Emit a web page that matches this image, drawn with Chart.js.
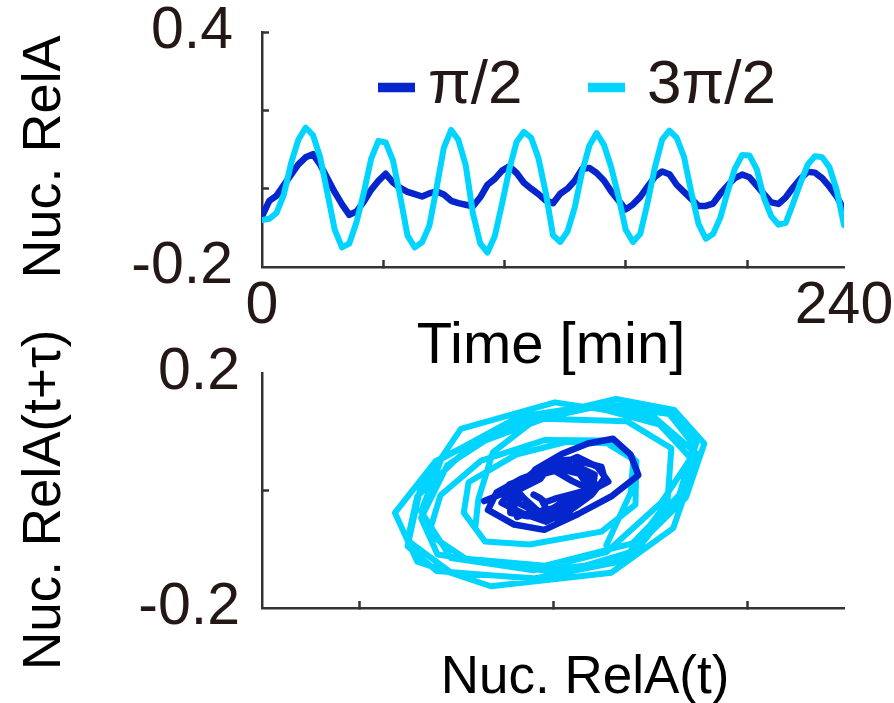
<!DOCTYPE html>
<html>
<head>
<meta charset="utf-8">
<script src="https://cdn.jsdelivr.net/npm/chart.js@4.4.1/dist/chart.umd.min.js"></script>
<style>
html,body{margin:0;padding:0;background:#ffffff;}
#wrap{position:relative;width:894px;height:703px;overflow:hidden;}
#wrap canvas{position:absolute;left:0;top:0;}
</style>
</head>
<body>
<div id="wrap">
<canvas id="top" width="894" height="703"></canvas>
<canvas id="bottom" width="894" height="703"></canvas>
</div>
<script>
// ---------------- data ----------------
const SERIES_LABELS = ['π/2', '3π/2'];

// sampling times [min]
const TIME = [0,3,6,9,12,15,18,21,24,27,30,33,36,39,42,45,48,51,54,57,
  60,63,66,69,72,75,78,81,84,87,90,93,96,99,102,105,108,111,114,117,
  120,123,126,129,132,135,138,141,144,147,150,153,156,159,162,165,168,171,174,177,
  180,183,186,189,192,195,198,201,204,207,210,213,216,219,222,225,228,231,234,237,240];

// nuclear RelA, pi/2 (dark blue)
const RELA_PI2 = [-0.071,-0.031,-0.018,0.009,0.036,0.062,0.080,0.088,0.061,0.026,
  -0.009,-0.040,-0.067,-0.058,-0.033,-0.003,0.020,0.038,0.016,0.002,
  -0.008,-0.014,-0.020,-0.012,-0.007,-0.015,-0.031,-0.037,-0.041,-0.045,
  -0.022,0.010,0.025,0.046,0.057,0.040,0.015,0.000,-0.014,-0.030,
  -0.037,-0.013,0.000,0.020,0.050,0.053,0.040,0.021,-0.007,-0.030,
  -0.053,-0.040,-0.021,0.005,0.030,0.044,0.037,0.010,-0.008,-0.026,
  -0.044,-0.044,-0.038,-0.013,0.008,0.027,0.036,0.029,0.008,-0.014,
  -0.035,-0.039,-0.022,0.003,0.025,0.043,0.041,0.027,0.005,-0.020,
  -0.054];

// nuclear RelA, 3pi/2 (cyan)
const RELA_3PI2 = [-0.080,-0.077,-0.062,-0.015,0.065,0.125,0.156,0.137,0.080,-0.012,
  -0.105,-0.150,-0.140,-0.085,-0.010,0.076,0.122,0.118,0.072,-0.020,
  -0.120,-0.150,-0.137,-0.095,0.002,0.105,0.150,0.124,0.060,-0.064,
  -0.140,-0.163,-0.121,-0.038,0.050,0.120,0.145,0.130,0.078,-0.010,
  -0.119,-0.136,-0.109,-0.047,0.043,0.110,0.142,0.112,0.055,-0.020,
  -0.105,-0.136,-0.115,-0.036,0.054,0.125,0.148,0.130,0.082,-0.008,
  -0.090,-0.128,-0.116,-0.074,-0.008,0.051,0.086,0.085,0.050,-0.024,
  -0.070,-0.092,-0.087,-0.038,0.014,0.061,0.083,0.080,0.055,-0.004,
  -0.093];

// delay used for the phase portrait, in samples (2 samples = 6 min)
const LAG_SAMPLES = 2;

// axis ticks and titles
const TOP_X_TICKS = [0, 50, 100, 150, 200, 240];
const TOP_X_LABELS = [0, 240];
const TOP_Y_TICKS = [-0.2, 0, 0.2, 0.4];
const TOP_Y_LABELS = [-0.2, 0.4];
const BOT_X_TICKS = [-0.2, 0, 0.2];
const BOT_Y_TICKS = [-0.2, 0, 0.2];
const BOT_Y_LABELS = [-0.2, 0.2];
const TITLES = {
  topX: 'Time [min]',
  topY: 'Nuc. RelA',
  botX: 'Nuc. RelA(t)',
  botY: 'Nuc. RelA(t+τ)'
};

// ---------------- styling ----------------
const BLUE = '#0526CC';
const CYAN = '#00D4FF';
const AXIS = '#333333';
const TEXT = '#231815';
const FONT = '"Liberation Sans", Arial, Helvetica, sans-serif';

Chart.defaults.font.family = FONT;
Chart.defaults.color = TEXT;

const fmt = v => (Math.abs(v) < 1e-9 ? '0' : String(Math.round(v * 10) / 10));
const same = (a, b) => Math.abs(a - b) < 1e-9;

function setTicks(list) {
  return scale => { scale.ticks = list.map(v => ({ value: v })); };
}
function tickColor(hidden) {
  return ctx => (ctx.tick && hidden.some(h => same(h, ctx.tick.value))) ? 'rgba(0,0,0,0)' : AXIS;
}
function fitX(h) {
  return s => { s.height = h; s.paddingLeft = 0; s.paddingRight = 0; };
}
function fitY(w) {
  return s => { s.width = w; s.paddingTop = 0; s.paddingBottom = 0; };
}

// axis titles and inline legend (text placed beside the axes)
const annotations = {
  id: 'annotations',
  afterDatasetsDraw(chart, args, opts) {
    const ctx = chart.ctx;
    ctx.save();
    (opts.titles || []).forEach(t => {
      ctx.save();
      ctx.fillStyle = '#000';
      ctx.font = t.size + 'px ' + FONT;
      ctx.textAlign = t.align || 'center';
      ctx.textBaseline = 'alphabetic';
      ctx.translate(t.x, t.y);
      if (t.rotate) ctx.rotate(t.rotate);
      ctx.fillText(t.text, 0, 0);
      ctx.restore();
    });
    const lg = opts.legend;
    if (lg) {
      chart.data.datasets.forEach((ds, i) => {
        const x = lg.x[i];
        ctx.strokeStyle = ds.borderColor;
        ctx.lineWidth = lg.lineWidth;
        ctx.lineCap = 'butt';
        ctx.beginPath();
        ctx.moveTo(x, lg.y);
        ctx.lineTo(x + lg.length, lg.y);
        ctx.stroke();
        ctx.fillStyle = TEXT;
        ctx.font = lg.fontSize + 'px ' + FONT;
        ctx.textAlign = 'left';
        ctx.textBaseline = 'alphabetic';
        ctx.fillText(ds.label, lg.textX[i], lg.baseline);
      });
    }
    ctx.restore();
  }
};

const lineDefaults = {
  fill: false,
  tension: 0,
  pointRadius: 0,
  borderJoinStyle: 'round',
  borderCapStyle: 'round'
};
const axisBorder = { display: true, color: AXIS, width: 2.5 };

// ---------------- top: time course ----------------
new Chart(document.getElementById('top'), {
  type: 'line',
  data: {
    datasets: [
      Object.assign({
        label: SERIES_LABELS[0],
        data: TIME.map((t, i) => ({ x: t, y: RELA_PI2[i] })),
        borderColor: BLUE,
        borderWidth: 6.5,
        order: 1
      }, lineDefaults),
      Object.assign({
        label: SERIES_LABELS[1],
        data: TIME.map((t, i) => ({ x: t, y: RELA_3PI2[i] })),
        borderColor: CYAN,
        borderWidth: 6,
        order: 0
      }, lineDefaults)
    ]
  },
  options: {
    responsive: false,
    animation: false,
    layout: { padding: { left: 0, top: 32, right: 50, bottom: 356 } },
    plugins: {
      legend: { display: false },
      tooltip: { enabled: false },
      annotations: {
        titles: [
          { text: TITLES.topX, x: 551, y: 363, size: 58 },
          { text: TITLES.topY, x: 60, y: 157, size: 54, rotate: -Math.PI / 2 }
        ],
        legend: { x: [378, 588], y: 87.5, length: 37, lineWidth: 9.5, textX: [428, 647], baseline: 103, fontSize: 62 }
      }
    },
    scales: {
      x: {
        type: 'linear', min: 0, max: 240,
        afterBuildTicks: setTicks(TOP_X_TICKS),
        afterFit: fitX(80),
        border: axisBorder,
        grid: { display: true, drawOnChartArea: false, drawTicks: true, tickLength: -7, tickWidth: 2.5, tickColor: tickColor([0, 240]) },
        ticks: {
          autoSkip: false, maxRotation: 0, padding: 17, color: TEXT,
          font: { size: 59, lineHeight: 1 },
          callback: v => (TOP_X_LABELS.some(l => same(l, v)) ? fmt(v) : '')
        },
        title: { display: false }
      },
      y: {
        type: 'linear', min: -0.2, max: 0.4,
        afterBuildTicks: setTicks(TOP_Y_TICKS),
        afterFit: fitY(262),
        border: axisBorder,
        grid: { display: true, drawOnChartArea: false, drawTicks: true, tickLength: -7, tickWidth: 2.5, tickColor: tickColor([-0.2]) },
        ticks: {
          autoSkip: false, padding: 36, color: TEXT,
          font: { size: 59, lineHeight: 1 },
          callback: v => (TOP_Y_LABELS.some(l => same(l, v)) ? fmt(v) : '')
        },
        title: { display: false }
      }
    }
  },
  plugins: [annotations]
});

// ---------------- bottom: delay-embedding phase portrait ----------------
function phase(values) {
  const pts = [];
  for (let i = 0; i + LAG_SAMPLES < values.length; i++) {
    pts.push({ x: values[i], y: values[i + LAG_SAMPLES] });
  }
  return pts;
}

new Chart(document.getElementById('bottom'), {
  type: 'scatter',
  data: {
    datasets: [
      Object.assign({
        label: SERIES_LABELS[0],
        data: phase(RELA_PI2),
        borderColor: BLUE,
        backgroundColor: BLUE,
        borderWidth: 6.5,
        showLine: true,
        order: 0
      }, lineDefaults),
      Object.assign({
        label: SERIES_LABELS[1],
        data: phase(RELA_3PI2),
        borderColor: CYAN,
        backgroundColor: CYAN,
        borderWidth: 6,
        showLine: true,
        order: 1
      }, lineDefaults)
    ]
  },
  options: {
    responsive: false,
    animation: false,
    layout: { padding: { left: 0, top: 373, right: 50, bottom: 0 } },
    plugins: {
      legend: { display: false },
      tooltip: { enabled: false },
      annotations: {
        titles: [
          { text: TITLES.botX, x: 585, y: 693, size: 53 },
          { text: TITLES.botY, x: 60, y: 670, size: 53, align: 'left', rotate: -Math.PI / 2 }
        ]
      }
    },
    scales: {
      x: {
        type: 'linear', min: -0.3, max: 0.3,
        afterBuildTicks: setTicks(BOT_X_TICKS),
        afterFit: fitX(95),
        border: axisBorder,
        grid: { display: true, drawOnChartArea: false, drawTicks: true, tickLength: -7, tickWidth: 2.5, tickColor: AXIS },
        ticks: { autoSkip: false, maxRotation: 0, padding: 0, font: { size: 20, lineHeight: 1 }, callback: () => '' },
        title: { display: false }
      },
      y: {
        type: 'linear', min: -0.2, max: 0.2,
        afterBuildTicks: setTicks(BOT_Y_TICKS),
        afterFit: fitY(262),
        border: axisBorder,
        grid: { display: true, drawOnChartArea: false, drawTicks: true, tickLength: -7, tickWidth: 2.5, tickColor: tickColor([0.2, -0.2]) },
        ticks: {
          autoSkip: false, padding: 29, color: TEXT,
          font: { size: 59, lineHeight: 1 },
          callback: v => (BOT_Y_LABELS.some(l => same(l, v)) ? fmt(v) : '')
        },
        title: { display: false }
      }
    }
  },
  plugins: [annotations]
});
</script>
</body>
</html>
